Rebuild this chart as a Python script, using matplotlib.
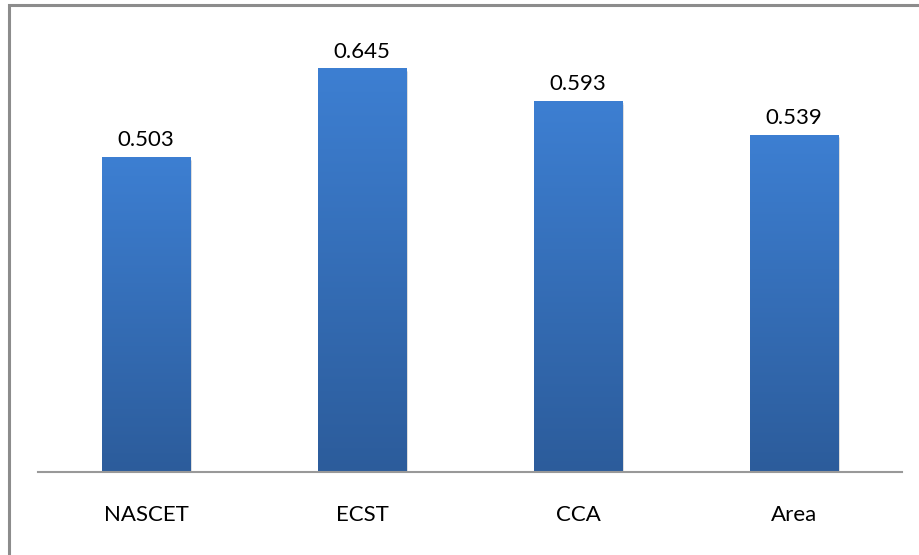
import numpy as np
import matplotlib.pyplot as plt
from matplotlib.colors import LinearSegmentedColormap
from matplotlib.patches import Rectangle

categories = ['NASCET', 'ECST', 'CCA', 'Area']
values = [0.503, 0.645, 0.593, 0.539]
value_labels = ['0.503', '0.645', '0.593', '0.539']

plt.rcParams['font.family'] = ['Lato', 'DejaVu Sans']

fig = plt.figure(figsize=(9.2, 5.55), dpi=100)
ax = fig.add_axes([38 / 920, 1 - 472 / 555, 864 / 920, 438 / 555])

# outer chart frame
fig.patches.append(Rectangle((8.5 / 920, -0.05), 1.1, 1 - 4.5 / 555 + 0.05,
                             transform=fig.transFigure, fill=False,
                             edgecolor='#8c8c8c', linewidth=2.2))

x = np.arange(len(categories))
width = 0.41
grad = LinearSegmentedColormap.from_list('bar', ['#2c5c9b', '#3d7fd2'])

# soft drop shadow around the bars
for off, a in [(0.010, 0.06), (0.006, 0.08), (0.003, 0.10)]:
    ax.bar(x + off * 0.5, np.array(values), width + off, bottom=-off * 0.6,
           color='black', alpha=a, linewidth=0, zorder=1)

bars = ax.bar(x, values, width, color='#3570bb', linewidth=0, zorder=2)
ramp = np.linspace(0, 1, 256).reshape(-1, 1)
for b in bars:
    x0, y0 = b.get_x(), b.get_y()
    im = ax.imshow(ramp, cmap=grad, origin='lower', aspect='auto',
                   extent=(x0, x0 + b.get_width(), y0, y0 + b.get_height()),
                   zorder=3)
    im.set_clip_path(b)

for xi, v, lab in zip(x, values, value_labels):
    ax.text(xi, v + 0.027, lab, ha='center', va='center', fontsize=16,
            color='black')

ax.set_xlim(-0.5, len(categories) - 0.5)
ax.set_ylim(0, 0.7)
ax.set_xticks(x)
ax.set_xticklabels(categories, fontsize=16)
ax.tick_params(axis='x', length=0, pad=24)
ax.set_yticks([])
for s in ['top', 'right', 'left']:
    ax.spines[s].set_visible(False)
ax.spines['bottom'].set_color('#999999')
ax.spines['bottom'].set_linewidth(1.5)
ax.spines['bottom'].set_zorder(5)

fig.savefig('out.png', dpi=100)
